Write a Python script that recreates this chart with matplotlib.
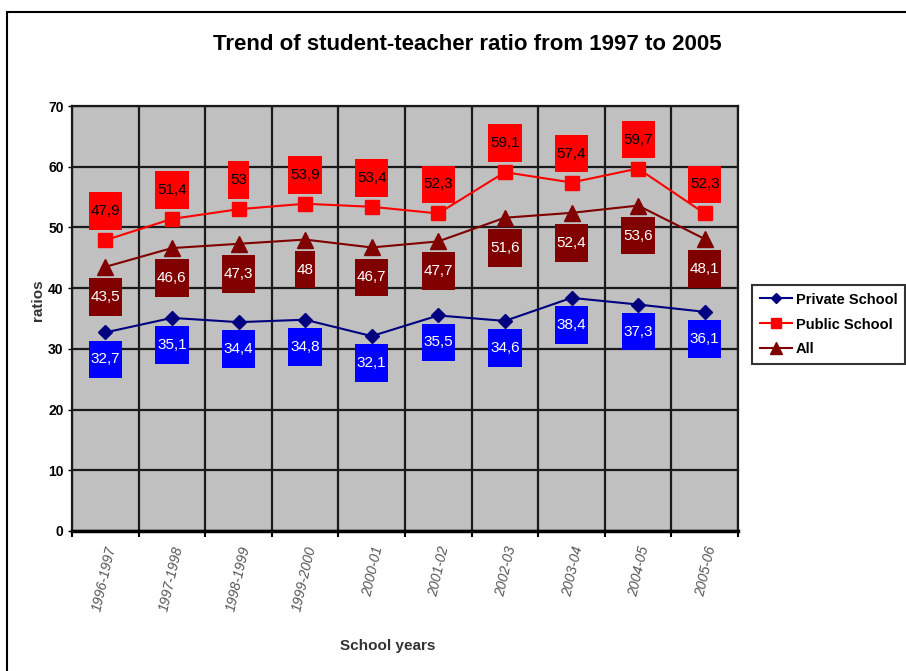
#!/usr/bin/env python3
"""
Student-teacher ratio trend, 1996-97 to 2005-06, by school type.
Excel-style line chart with boxed data labels.
"""
import matplotlib
matplotlib.use("Agg")
import matplotlib.pyplot as plt
from matplotlib.patches import Rectangle
from matplotlib.transforms import offset_copy

school_years = ["1996-1997", "1997-1998", "1998-1999", "1999-2000", "2000-01",
                "2001-02", "2002-03", "2003-04", "2004-05", "2005-06"]
private_school = [32.7, 35.1, 34.4, 34.8, 32.1, 35.5, 34.6, 38.4, 37.3, 36.1]
public_school = [47.9, 51.4, 53.0, 53.9, 53.4, 52.3, 59.1, 57.4, 59.7, 52.3]
all_schools = [43.5, 46.6, 47.3, 48.0, 46.7, 47.7, 51.6, 52.4, 53.6, 48.1]

plt.rcParams["font.family"] = ["Liberation Sans", "DejaVu Sans"]

W, H = 906, 671
fig = plt.figure(figsize=(W / 100, H / 100), dpi=100)
ax = fig.add_axes([72 / W, 1 - 531 / H, (738 - 72) / W, (531 - 106) / H])
ax.set_facecolor("#c0c0c0")

x = list(range(len(school_years)))

ax.plot(x, private_school, color="#000080", lw=1.5, marker="D", ms=7,
        label="Private School", zorder=3)
ax.plot(x, public_school, color="#ff0000", lw=1.5, marker="s", ms=10,
        label="Public School", zorder=3)
ax.plot(x, all_schools, color="#800000", lw=1.5, marker="^", ms=11,
        label="All", zorder=3)


def fmt(v):
    s = f"{v:.1f}".replace(".", ",")
    return s[:-2] if s.endswith(",0") else s


# boxed data labels (box colour, text colour, vertical offset in px)
label_specs = [
    (private_school, "#0000ff", "white", -27),
    (public_school, "#ff0000", "black", 29),
    (all_schools, "#800000", "white", -30),
]
for vals, box_c, txt_c, dy in label_specs:
    tr = offset_copy(ax.transData, fig=fig, x=0, y=dy, units="dots")
    for xi, v in zip(x, vals):
        ax.text(xi, v, fmt(v), transform=tr, ha="center", va="center",
                fontsize=11, color=txt_c, zorder=4,
                bbox=dict(boxstyle="square,pad=0.12", fc=box_c, ec="none",
                          mutation_aspect=6.5))

ax.set_xlim(-0.5, len(x) - 0.5)
ax.set_ylim(0, 70)
ax.set_yticks(range(0, 71, 10))
ax.set_yticklabels([str(v) for v in range(0, 71, 10)], fontsize=10,
                   fontweight="bold")
ax.set_xticks(x)
ax.set_xticklabels(school_years, rotation=77, fontsize=10, color="#555555",
                   ha="right", va="top", rotation_mode="anchor",
                   style="italic")
ax.tick_params(axis="x", which="major", length=0, pad=10)
ax.set_xticks([i - 0.5 for i in range(len(x) + 1)], minor=True)
ax.tick_params(axis="x", which="minor", length=4, width=1.5, color="black")
ax.tick_params(axis="y", length=3, width=1, pad=3)

ax.grid(True, which="minor", axis="x", color="#1a1a1a", lw=1.6)
ax.grid(True, which="major", axis="y", color="#1a1a1a", lw=1.6)
ax.set_axisbelow(True)
for side in ["left", "right", "top"]:
    ax.spines[side].set_color("#1a1a1a")
    ax.spines[side].set_linewidth(1.6)
ax.spines["bottom"].set_color("black")
ax.spines["bottom"].set_linewidth(2.5)

fig.text(467 / W, 1 - 45 / H, "Trend of student-teacher ratio from 1997 to 2005",
         ha="center", va="center", fontsize=16, fontweight="bold")
fig.text(388 / W, 1 - 646 / H, "School years", ha="center", va="center",
         fontsize=11, fontweight="bold", color="#333333")
fig.text(38 / W, 1 - 300 / H, "ratios", ha="center", va="center",
         rotation=90, fontsize=11, fontweight="bold", color="#333333")

leg = fig.legend(loc="upper left", bbox_to_anchor=(745 / W, 1 - 278 / H),
                 frameon=True, fancybox=False, fontsize=10.5, handlelength=2.2,
                 borderpad=0.5, labelspacing=0.75, handletextpad=0.3,
                 markerscale=0.75)
leg.get_frame().set_edgecolor("black")
leg.get_frame().set_linewidth(1.5)
for t in leg.get_texts():
    t.set_fontweight("bold")

# outer chart border
fig.add_artist(Rectangle((7 / W, -0.1), 1.2, 1.1 - 12 / H, transform=fig.transFigure,
                         fill=False, ec="black", lw=1.5))

fig.savefig("out.png", dpi=100)
